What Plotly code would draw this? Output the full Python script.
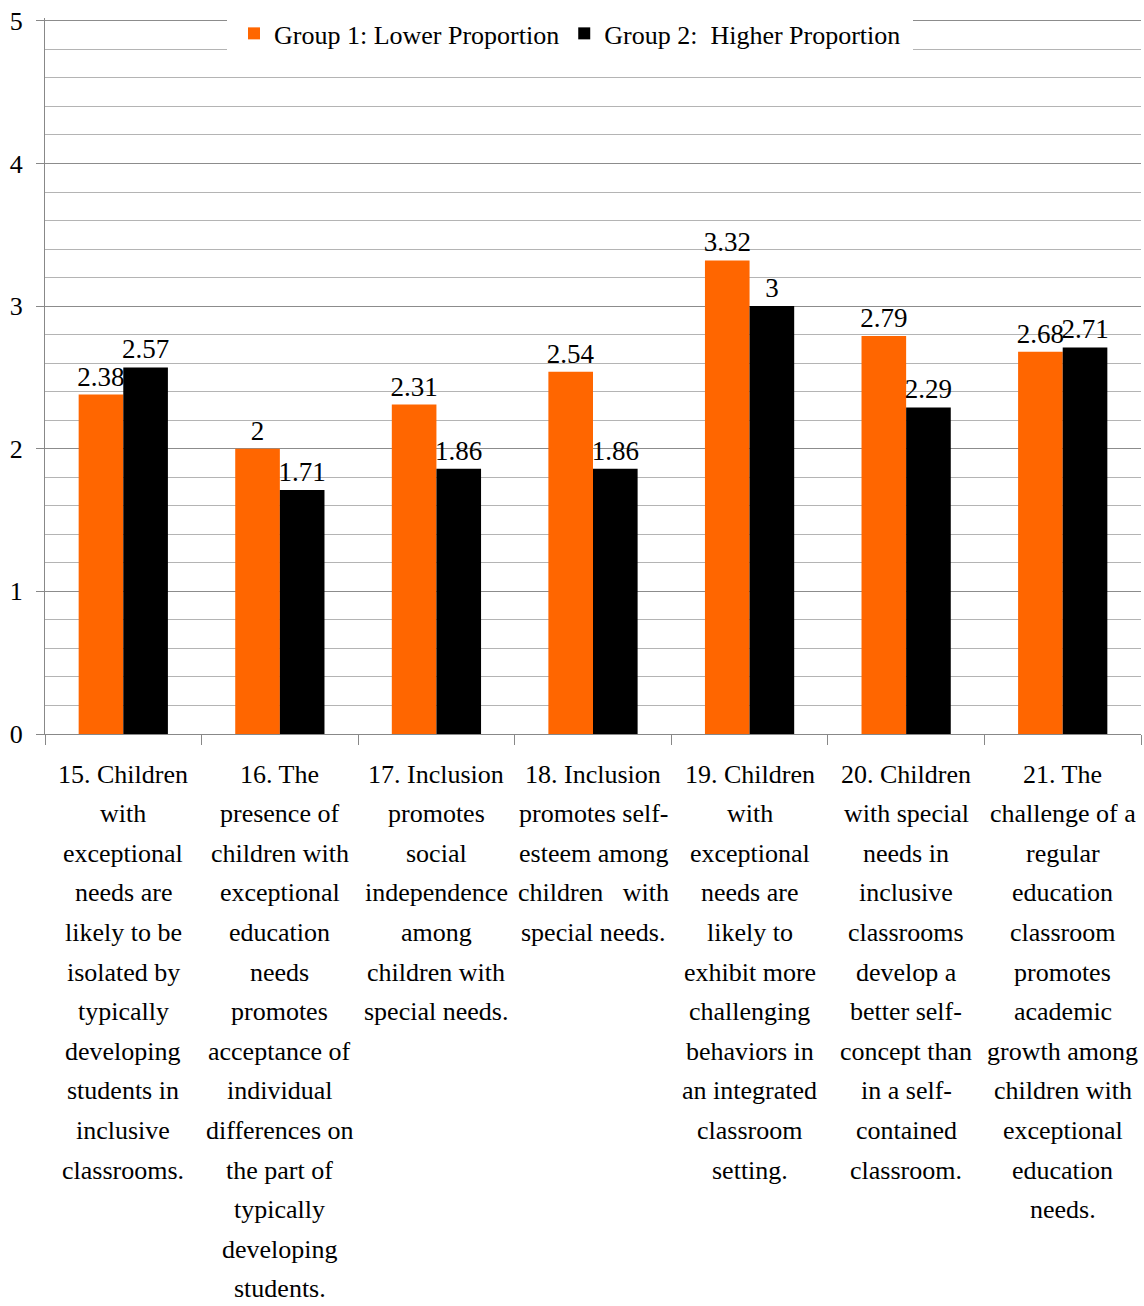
import plotly.graph_objects as go

# Survey items (x-axis categories), one line per <br>
items = [
    "15. Children<br>with<br>exceptional<br>needs are<br>likely to be<br>isolated by<br>typically<br>developing<br>students in<br>inclusive<br>classrooms.",
    "16. The<br>presence of<br>children with<br>exceptional<br>education<br>needs<br>promotes<br>acceptance of<br>individual<br>differences on<br>the part of<br>typically<br>developing<br>students.",
    "17. Inclusion<br>promotes<br>social<br>independence<br>among<br>children with<br>special needs.",
    "18. Inclusion<br>promotes self-<br>esteem among<br>children   with<br>special needs.",
    "19. Children<br>with<br>exceptional<br>needs are<br>likely to<br>exhibit more<br>challenging<br>behaviors in<br>an integrated<br>classroom<br>setting.",
    "20. Children<br>with special<br>needs in<br>inclusive<br>classrooms<br>develop a<br>better self-<br>concept than<br>in a self-<br>contained<br>classroom.",
    "21. The<br>challenge of a<br>regular<br>education<br>classroom<br>promotes<br>academic<br>growth among<br>children with<br>exceptional<br>education<br>needs.",
]

group1_name = "Group 1: Lower Proportion"
group2_name = "Group 2:  Higher Proportion"
group1_values = [2.38, 2, 2.31, 2.54, 3.32, 2.79, 2.68]
group2_values = [2.57, 1.71, 1.86, 1.86, 3, 2.29, 2.71]

y_ticks = [0, 1, 2, 3, 4, 5]

SERIF = "Liberation Serif, Times New Roman, serif"
LABEL_SIZE = 26
LINE_STEP = 39.6      # px between wrapped category-label lines
FIRST_LINE = 40       # px from the x axis to the first label line

fig = go.Figure()
for name, vals, color in [
    (group1_name, group1_values, "#FF6600"),
    (group2_name, group2_values, "#000000"),
]:
    fig.add_trace(go.Bar(
        name=name,
        x=items,
        y=vals,
        marker=dict(color=color, line=dict(width=0)),
        text=[f"{v:g}" for v in vals],
        textposition="outside",
        constraintext="none",
        cliponaxis=False,
        textfont=dict(family=SERIF, size=27, color="#000000"),
    ))

# Category labels, one line at a time so the line spacing stays loose
for cat in items:
    for j, line in enumerate(cat.split("<br>")):
        fig.add_annotation(
            x=cat, y=0, xref="x", yref="y",
            text=line.replace("   ", "&nbsp;&nbsp;&nbsp;"),
            showarrow=False,
            xanchor="center", yanchor="middle",
            yshift=-(FIRST_LINE + j * LINE_STEP),
            font=dict(family=SERIF, size=LABEL_SIZE, color="#000000"),
        )

fig.update_layout(
    width=1144,
    height=1306,
    margin=dict(l=45, r=3, t=15, b=572),
    paper_bgcolor="white",
    plot_bgcolor="white",
    barmode="group",
    bargap=0.43,
    bargroupgap=0,
    font=dict(family=SERIF, color="#000000"),
    showlegend=True,
    legend=dict(
        orientation="h",
        x=0.479,
        xanchor="center",
        y=1.021,
        yanchor="top",
        bgcolor="white",
        bordercolor="white",
        borderwidth=7,
        font=dict(family=SERIF, size=26, color="#000000"),
        itemsizing="constant",
        traceorder="normal",
    ),
    xaxis=dict(
        type="category",
        showticklabels=False,
        ticks="outside",
        tickson="boundaries",
        ticklen=10,
        tickcolor="#888888",
        showline=True,
        linecolor="#888888",
        linewidth=1,
        showgrid=False,
        automargin=False,
    ),
    yaxis=dict(
        range=[0, 5.02],
        tickvals=y_ticks,
        tickfont=dict(family=SERIF, size=26, color="#000000"),
        ticks="outside",
        ticklen=8,
        ticklabelstandoff=8,
        tickcolor="#888888",
        showline=True,
        linecolor="#888888",
        linewidth=1,
        showgrid=True,
        gridcolor="#8c8c8c",
        gridwidth=1,
        zeroline=False,
        minor=dict(dtick=0.2, showgrid=True, gridcolor="#b4b4b4", gridwidth=1),
        automargin=False,
    ),
)

fig.write_html("out.html")
